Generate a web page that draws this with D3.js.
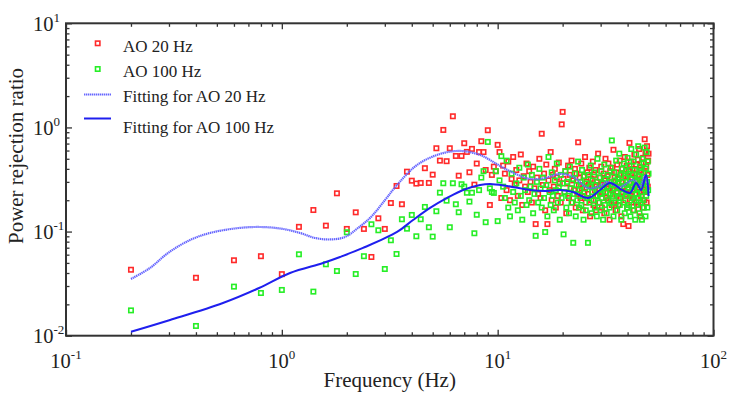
<!DOCTYPE html>
<html><head><meta charset="utf-8">
<script src="https://cdn.jsdelivr.net/npm/d3@7"></script>
<style>body{margin:0;background:#fff}svg{display:block}text{font-family:"Liberation Serif","Times New Roman",serif;fill:#222}</style>
</head><body><svg id="c" width="736" height="400"></svg>
<script>
const freqs = [
0.2,0.4,0.6,0.8,1.0,1.2,1.4,1.6,1.8,2.0,
2.2,2.4,2.6,2.8,3.0,3.2,3.4,3.6,3.8,4.0,
4.2,4.4,4.6,4.8,5.0,5.2,5.4,5.6,5.8,6.0,
6.2,6.4,6.6,6.8,7.0,7.2,7.4,7.6,7.8,8.0,
8.2,8.4,8.6,8.8,9.0,9.2,9.4,9.6,9.8,10.0,
10.2,10.4,10.6,10.8,11.0,11.2,11.4,11.6,11.8,12.0,
12.2,12.4,12.6,12.8,13.0,13.2,13.4,13.6,13.8,14.0,
14.2,14.4,14.6,14.8,15.0,15.2,15.4,15.6,15.8,16.0,
16.2,16.4,16.6,16.8,17.0,17.2,17.4,17.6,17.8,18.0,
18.2,18.4,18.6,18.8,19.0,19.2,19.4,19.6,19.8,20.0,
20.2,20.4,20.6,20.8,21.0,21.2,21.4,21.6,21.8,22.0,
22.2,22.4,22.6,22.8,23.0,23.2,23.4,23.6,23.8,24.0,
24.2,24.4,24.6,24.8,25.0,25.2,25.4,25.6,25.8,26.0,
26.2,26.4,26.6,26.8,27.0,27.2,27.4,27.6,27.8,28.0,
28.2,28.4,28.6,28.8,29.0,29.2,29.4,29.6,29.8,30.0,
30.2,30.4,30.6,30.8,31.0,31.2,31.4,31.6,31.8,32.0,
32.2,32.4,32.6,32.8,33.0,33.2,33.4,33.6,33.8,34.0,
34.2,34.4,34.6,34.8,35.0,35.2,35.4,35.6,35.8,36.0,
36.2,36.4,36.6,36.8,37.0,37.2,37.4,37.6,37.8,38.0,
38.2,38.4,38.6,38.8,39.0,39.2,39.4,39.6,39.8,40.0,
40.2,40.4,40.6,40.8,41.0,41.2,41.4,41.6,41.8,42.0,
42.2,42.4,42.6,42.8,43.0,43.2,43.4,43.6,43.8,44.0,
44.2,44.4,44.6,44.8,45.0,45.2,45.4,45.6,45.8,46.0,
46.2,46.4,46.6,46.8,47.0,47.2,47.4,47.6,47.8,48.0,
48.2,48.4,48.6,48.8,49.0,49.2,49.4,49.6,49.8,50.0];

const ao20 = [
0.043,0.036,0.053,0.058,0.039,0.111,0.161,0.114,0.233,0.106,
0.153,0.106,0.057,0.134,0.106,0.188,0.274,0.183,0.376,0.308,
0.289,0.293,0.406,0.293,0.352,0.631,0.480,0.946,0.474,0.631,
1.28,0.532,0.344,0.532,0.705,0.582,0.371,0.622,0.282,0.45,
0.58,0.737,0.58,0.39,0.94,0.180,0.35,0.42,0.38,0.68,
0.58,0.21,0.43,0.36,0.25,0.47,0.20,0.32,0.52,0.28,
0.39,0.22,0.31,0.55,0.18,0.34,0.27,0.45,0.24,0.38,
0.30,0.19,0.42,0.26,0.118,0.33,0.23,0.50,0.21,0.87,
0.28,0.36,0.16,0.44,0.118,0.31,0.25,0.58,0.20,0.35,
0.27,0.40,0.17,0.33,0.22,0.46,0.29,0.19,1.07,1.41,
0.32,0.24,0.38,0.15,0.29,0.43,0.21,0.35,0.26,0.48,
0.19,0.31,0.25,0.40,0.17,0.36,0.23,0.72,0.28,0.33,
0.21,0.45,0.26,0.16,0.34,0.24,0.52,0.19,0.30,0.37,
0.23,0.28,0.41,0.14,0.32,0.20,0.27,0.47,0.18,0.35,
0.25,0.39,0.16,0.30,0.22,0.56,0.26,0.19,0.33,0.28,
0.42,0.17,0.29,0.24,0.36,0.15,0.31,0.50,0.21,0.27,
0.34,0.20,0.45,0.26,0.13,0.38,0.23,0.30,0.18,0.41,
0.25,0.61,0.19,0.33,0.28,0.16,0.37,0.22,0.44,0.29,
0.18,0.32,0.26,0.48,0.21,0.35,0.14,0.30,0.40,0.24,
0.118,0.36,0.27,0.52,0.20,0.31,0.23,0.43,0.17,0.34,
0.26,0.113,0.38,0.71,0.22,0.29,0.47,0.19,0.33,0.25,
0.40,0.21,0.30,0.16,0.55,0.27,0.36,0.23,0.44,0.19,
0.31,0.26,0.49,0.18,0.35,0.62,0.24,0.29,0.14,0.39,
0.22,0.45,0.28,0.33,0.17,0.51,0.25,0.37,0.20,0.77,
0.30,0.58,0.24,0.42,0.19,0.66,0.35,0.27,0.48,0.56];

const ao100 = [
0.0175,0.0124,0.0296,0.0257,0.0275,0.0605,0.0265,0.0485,0.0418,0.0985,
0.0391,0.058,0.1175,0.1029,0.0437,0.0825,0.0609,0.1313,0.1066,0.1444,
0.0901,0.1313,0.1723,0.110,0.0894,0.1567,0.2364,0.2911,0.1981,0.110,
0.2911,0.1829,0.1533,0.2848,0.270,0.236,0.194,0.236,0.0963,0.145,
0.25,0.33,0.38,0.123,0.726,0.26,0.24,0.235,0.38,0.126,
0.31,0.53,0.27,0.21,0.48,0.17,0.14,0.36,0.24,0.19,
0.29,0.16,0.41,0.22,0.13,0.33,0.25,0.18,0.44,0.20,
0.27,0.35,0.15,0.23,0.091,0.30,0.19,0.40,0.26,0.17,
0.33,0.21,0.099,0.28,0.14,0.52,0.24,0.18,0.37,0.22,
0.16,0.31,0.25,0.45,0.19,0.27,0.13,0.35,0.21,0.29,
0.094,0.24,0.38,0.17,0.30,0.22,0.15,0.42,0.26,0.19,
0.32,0.078,0.23,0.36,0.14,0.28,0.20,0.47,0.17,0.25,
0.30,0.18,0.39,0.22,0.13,0.34,0.26,0.16,0.29,0.21,
0.078,0.35,0.19,0.27,0.43,0.15,0.24,0.31,0.20,0.37,
0.17,0.28,0.22,0.14,0.50,0.25,0.19,0.33,0.23,0.16,
0.38,0.21,0.29,0.13,0.26,0.44,0.18,0.32,0.24,0.15,
0.27,0.35,0.20,0.30,0.17,0.23,0.41,0.19,0.75,0.28,
0.22,0.14,0.37,0.26,0.31,0.19,0.48,0.24,0.16,0.33,
0.29,0.21,0.56,0.18,0.27,0.35,0.13,0.40,0.23,0.30,
0.19,0.45,0.26,0.15,0.33,0.22,0.38,0.28,0.17,0.51,
0.24,0.36,0.18,0.43,0.29,0.14,0.32,0.62,0.21,0.27,
0.35,0.16,0.47,0.25,0.20,0.39,0.13,0.30,0.55,0.23,
0.18,0.31,0.26,0.66,0.21,0.34,0.15,0.42,0.28,0.19,
0.37,0.24,0.13,0.50,0.29,0.20,0.45,0.17,0.33,0.64,
0.26,0.14,0.40,0.22,0.58,0.30,0.17,0.47,0.25,0.36];

const fit20Freq = [0.2,0.245,0.297,0.376,0.465,0.607,0.768,0.981,1.214,1.425,1.673,1.963,2.255,2.59,3.008,3.419,4.232,5.41,6.696,8.289,10,11.4,14.1,16.6,19.5,22.4,26.2,29.8,32.1,36.9,42.4,45.7,48.2,50];
const fit20Val  = [0.0351,0.0447,0.0623,0.0831,0.097,0.1071,0.1107,0.1071,0.097,0.0868,0.084,0.0888,0.1083,0.1381,0.2012,0.2803,0.4363,0.5565,0.5947,0.5443,0.44,0.38,0.32,0.327,0.358,0.335,0.262,0.274,0.30,0.268,0.313,0.274,0.342,0.251];
const fit100Freq = [0.2,0.3035,0.5335,0.7845,1.091,1.552,1.861,2.378,3.419,4.055,4.862,5.83,6.914,8.289,9.22,11.06,14.13,16.58,19.46,22.36,26.24,29.82,33.18,37.71,41.07,43.78,46.18,48.73,50];
const fit100Val  = [0.0109,0.01415,0.0206,0.0287,0.04,0.0499,0.057,0.0696,0.0991,0.1292,0.1686,0.2103,0.2509,0.2803,0.2866,0.274,0.2509,0.2455,0.2509,0.2401,0.2103,0.2509,0.293,0.2509,0.2349,0.293,0.2509,0.3498,0.2198];

const xTickExps = [-1,0,1,2];
const yTickExps = [-2,-1,0,1];
const legendLabels = ["AO 20 Hz","AO 100 Hz","Fitting for AO 20 Hz","Fitting for AO 100 Hz"];

const RED = "#ff2a2a", GREEN = "#26ee26", BLUE_DOT = "#6666ff", BLUE = "#1f1fee", AXIS = "#333";
const L = 66, R = 713.5, T = 23.3, B = 335.7;
const svg = d3.select("#c");
const x = d3.scaleLog().domain([0.1,100]).range([L,R]);
const y = d3.scaleLog().domain([0.01,10]).range([B,T]);

const majorX = xTickExps.map(e => Math.pow(10,e));
const majorY = yTickExps.map(e => Math.pow(10,e));
const minorX = x.ticks().filter(v => !majorX.some(m => Math.abs(m - v)/m < 1e-6));
const minorY = y.ticks().filter(v => !majorY.some(m => Math.abs(m - v)/m < 1e-6));

function axisGroup(axis, tx, ty){
  const g = svg.append("g").attr("transform",`translate(${tx},${ty})`).call(axis);
  g.select(".domain").remove();
  g.selectAll("line").attr("stroke",AXIS).attr("stroke-width",1.3);
  g.selectAll("text").remove();
  return g;
}
[[majorX,6],[minorX,3.5]].forEach(([vals,len])=>{
  axisGroup(d3.axisBottom(x).tickValues(vals).tickSizeInner(-len).tickSizeOuter(0),0,B);
  axisGroup(d3.axisTop(x).tickValues(vals).tickSizeInner(-len).tickSizeOuter(0),0,T);
});
[[majorY,6],[minorY,3.5]].forEach(([vals,len])=>{
  axisGroup(d3.axisLeft(y).tickValues(vals).tickSizeInner(-len).tickSizeOuter(0),L,0);
  axisGroup(d3.axisRight(y).tickValues(vals).tickSizeInner(-len).tickSizeOuter(0),R,0);
});

svg.append("rect").attr("x",L).attr("y",T).attr("width",R-L).attr("height",B-T)
  .attr("fill","none").attr("stroke",AXIS).attr("stroke-width",2);

xTickExps.forEach(e=>{
  const t = svg.append("text").attr("x",x(Math.pow(10,e))).attr("y",368).attr("text-anchor","middle").attr("font-size",20.5);
  t.append("tspan").text("10");
  t.append("tspan").attr("font-size",13).attr("dy",-9).text(e<0?"-"+(-e):String(e));
});
yTickExps.forEach(e=>{
  const t = svg.append("text").attr("x",33).attr("y",y(Math.pow(10,e))+7.5).attr("text-anchor","start").attr("font-size",20.5);
  t.append("tspan").text("10");
  t.append("tspan").attr("font-size",13).attr("dy",-9).text(e<0?"-"+(-e):String(e));
});

svg.append("text").attr("x",(L+R)/2).attr("y",387).attr("text-anchor","middle").attr("font-size",21).text("Frequency (Hz)");
svg.append("text").attr("transform","translate(23,156) rotate(-90)").attr("text-anchor","middle").attr("font-size",21).text("Power rejection ratio");

const plot = svg.append("g");
function markers(vals,color){
  plot.append("g").selectAll("rect").data(freqs.map((f,i)=>[f,vals[i]])).join("rect")
    .attr("x",d=>x(d[0])-2.2).attr("y",d=>y(d[1])-2.2).attr("width",4.4).attr("height",4.4)
    .attr("fill","none").attr("stroke",color).attr("stroke-width",1.6);
}
markers(ao20,RED);
markers(ao100,GREEN);

const line = d3.line().x(d=>x(d[0])).y(d=>y(d[1])).curve(d3.curveCatmullRom.alpha(0.5));
plot.append("path").attr("d",line(fit20Freq.map((f,i)=>[f,fit20Val[i]])))
  .attr("fill","none").attr("stroke",BLUE_DOT).attr("stroke-width",2.2).attr("stroke-dasharray","1.4,0.6");
plot.append("path").attr("d",line(fit100Freq.map((f,i)=>[f,fit100Val[i]])))
  .attr("fill","none").attr("stroke",BLUE).attr("stroke-width",2);

const lg = svg.append("g");
lg.append("rect").attr("x",95.5).attr("y",41.1).attr("width",4.4).attr("height",4.4).attr("fill","none").attr("stroke",RED).attr("stroke-width",1.6);
lg.append("rect").attr("x",95.5).attr("y",66.8).attr("width",4.4).attr("height",4.4).attr("fill","none").attr("stroke",GREEN).attr("stroke-width",1.6);
lg.append("line").attr("x1",84).attr("x2",111).attr("y1",94.5).attr("y2",94.5).attr("stroke",BLUE_DOT).attr("stroke-width",2.2).attr("stroke-dasharray","1.4,0.6");
lg.append("line").attr("x1",84).attr("x2",111).attr("y1",118.5).attr("y2",118.5).attr("stroke",BLUE).attr("stroke-width",2);
[51.5,77.3,102,132.5].forEach((yy,i)=>{
  lg.append("text").attr("x",123).attr("y",yy).attr("font-size",17).text(legendLabels[i]);
});
</script></body></html>
